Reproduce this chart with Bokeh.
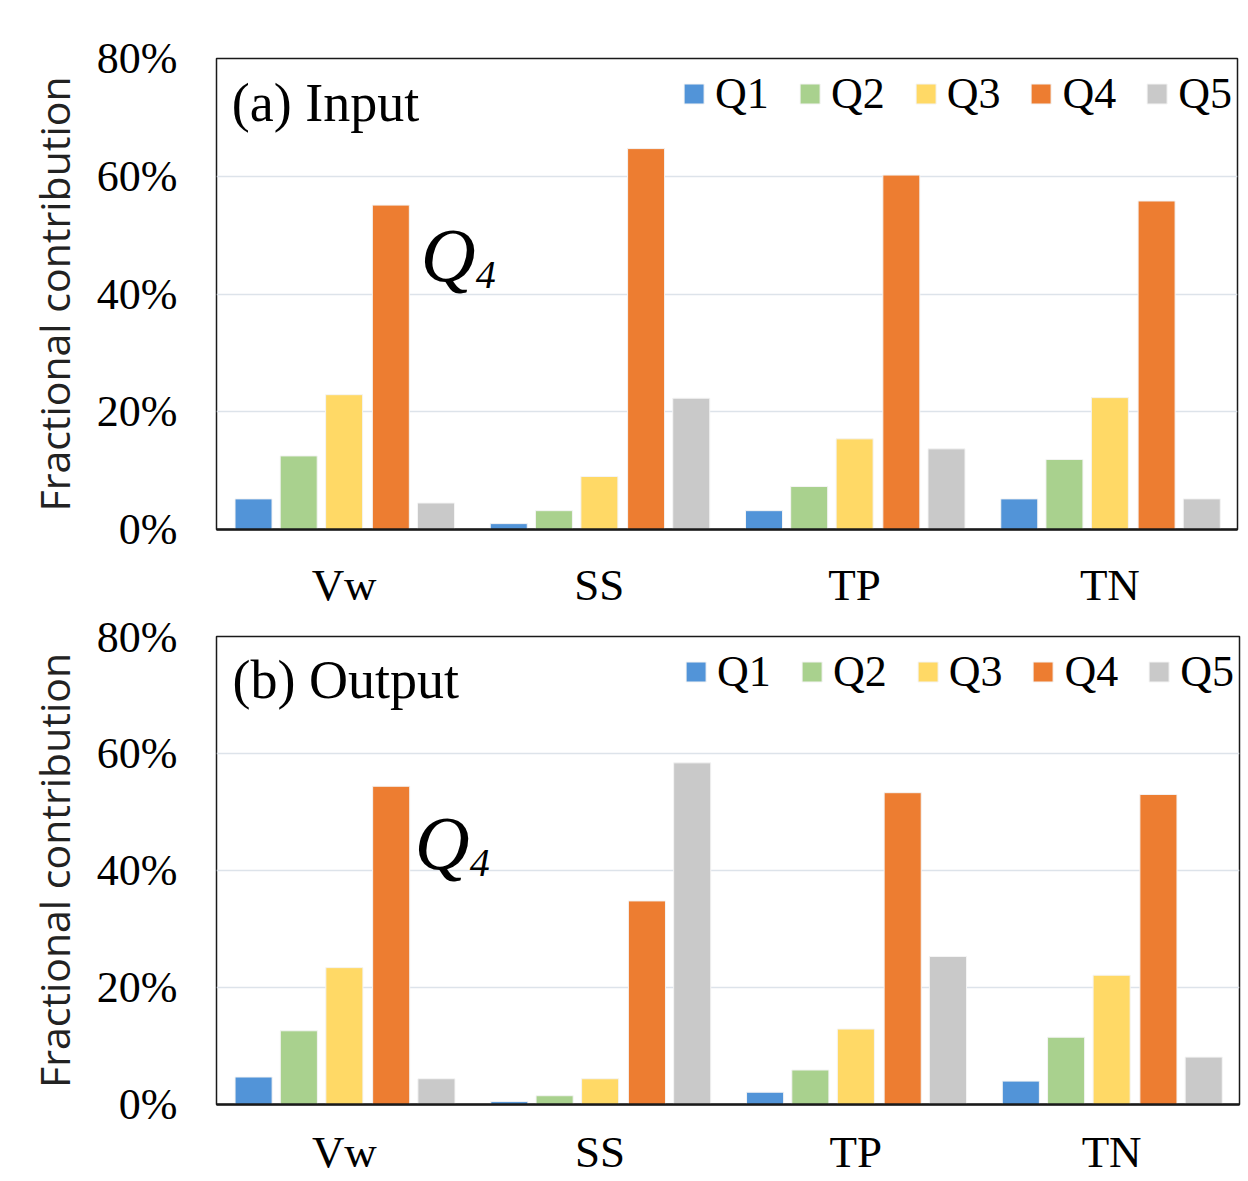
from bokeh.plotting import figure
from bokeh.models import ColumnDataSource, Range1d, FixedTicker, PrintfTickFormatter, Label
from bokeh.transform import dodge
from bokeh.layouts import column
from bokeh.embed import file_html
from bokeh.resources import INLINE

categories = ["Vw", "SS", "TP", "TN"]
series = ["Q1", "Q2", "Q3", "Q4", "Q5"]
colors = ["#5294D8", "#A9D18E", "#FFD966", "#ED7D31", "#C9C9C9"]

# (a) Input, percent
in_Q1 = [5.2, 1.0, 3.2, 5.2]
in_Q2 = [12.5, 3.2, 7.3, 11.9]
in_Q3 = [22.9, 9.0, 15.4, 22.4]
in_Q4 = [55.1, 64.7, 60.2, 55.8]
in_Q5 = [4.5, 22.3, 13.7, 5.2]

# (b) Output, percent
out_Q1 = [4.7, 0.5, 2.1, 4.0]
out_Q2 = [12.6, 1.5, 5.9, 11.5]
out_Q3 = [23.4, 4.4, 12.9, 22.1]
out_Q4 = [54.4, 34.8, 53.3, 53.0]
out_Q5 = [4.4, 58.4, 25.3, 8.1]

y_ticks = [0, 20, 40, 60, 80]

SERIF = "Liberation Serif"


def make_panel(title, vals, width, height, mb_left, mb_right, mb_top, mb_bottom,
               x_standoff, title_xy, q_xy):
    src = ColumnDataSource(dict(cat=categories, **{s: v for s, v in zip(series, vals)}))
    p = figure(x_range=categories, y_range=Range1d(0, 80), width=width, height=height,
               output_backend="svg", toolbar_location=None,
               min_border_left=mb_left, min_border_right=mb_right,
               min_border_top=mb_top, min_border_bottom=mb_bottom)
    offsets = [-0.355, -0.178, 0.0, 0.183, 0.36]
    for s, c, off in zip(series, colors, offsets):
        p.vbar(x=dodge("cat", off, range=p.x_range), top=s, width=0.145, source=src,
               fill_color=c, line_color="#f4f4f4", line_width=1, legend_label=s)

    p.outline_line_color = "#1a1a1a"
    p.outline_line_width = 1.5
    p.background_fill_color = "white"
    p.border_fill_color = "white"

    p.xgrid.grid_line_color = None
    p.ygrid.grid_line_color = "#dde3ea"
    p.ygrid.grid_line_width = 1.5
    p.ygrid.ticker = FixedTicker(ticks=y_ticks)

    ya = p.yaxis[0]
    ya.ticker = FixedTicker(ticks=y_ticks)
    ya.formatter = PrintfTickFormatter(format="%d%%")
    ya.major_label_text_font = SERIF
    ya.major_label_text_font_size = "44px"
    ya.major_label_text_color = "black"
    ya.major_label_standoff = 33
    ya.major_tick_line_color = None
    ya.minor_tick_line_color = None
    ya.axis_line_color = None
    ya.axis_label = "Fractional contribution"
    ya.axis_label_text_font = "Open Sans"
    ya.axis_label_text_font_style = "normal"
    ya.axis_label_text_font_size = "41px"
    ya.axis_label_text_color = "#222222"
    ya.axis_label_standoff = 12

    xa = p.xaxis[0]
    xa.major_label_text_font = SERIF
    xa.major_label_text_font_size = "45px"
    xa.major_label_text_color = "black"
    xa.major_label_standoff = x_standoff
    xa.major_tick_line_color = None
    xa.minor_tick_line_color = None
    xa.axis_line_color = "#1a1a1a"
    xa.axis_line_width = 2.5

    lg = p.legend[0]
    lg.orientation = "horizontal"
    lg.location = "top_right"
    lg.label_text_font = SERIF
    lg.label_text_font_size = "44px"
    lg.label_text_color = "black"
    lg.glyph_width = 25
    lg.glyph_height = 25
    lg.label_height = 60
    lg.label_standoff = 9
    lg.spacing = 28
    lg.padding = 4
    lg.margin = 5
    lg.border_line_color = None
    lg.background_fill_alpha = 0

    p.add_layout(Label(x=title_xy[0], y=title_xy[1], text=title, text_font=SERIF,
                       text_font_size="54px", text_baseline="middle", text_color="black"))
    p.add_layout(Label(x=q_xy[0], y=q_xy[1], text="Q", text_font=SERIF,
                       text_font_style="italic", text_font_size="76px",
                       text_baseline="alphabetic", text_color="black"))
    p.add_layout(Label(x=q_xy[0], y=q_xy[1], x_offset=55, y_offset=-20, text="4",
                       text_font=SERIF, text_font_style="italic", text_font_size="40px",
                       text_baseline="alphabetic", text_color="black"))
    return p


p1 = make_panel("(a) Input", [in_Q1, in_Q2, in_Q3, in_Q4, in_Q5],
                1240, 612, 213, 3, 58, 82, 24, (0.06, 72.4), (0.80, 46.6))
p2 = make_panel("(b) Output", [out_Q1, out_Q2, out_Q3, out_Q4, out_Q5],
                1242, 567, 216, 2, 24, 72, 16, (0.063, 72.5), (0.775, 44.7))

layout = column(p1, p2, spacing=0)
open("out.html", "w").write(file_html(layout, INLINE))
